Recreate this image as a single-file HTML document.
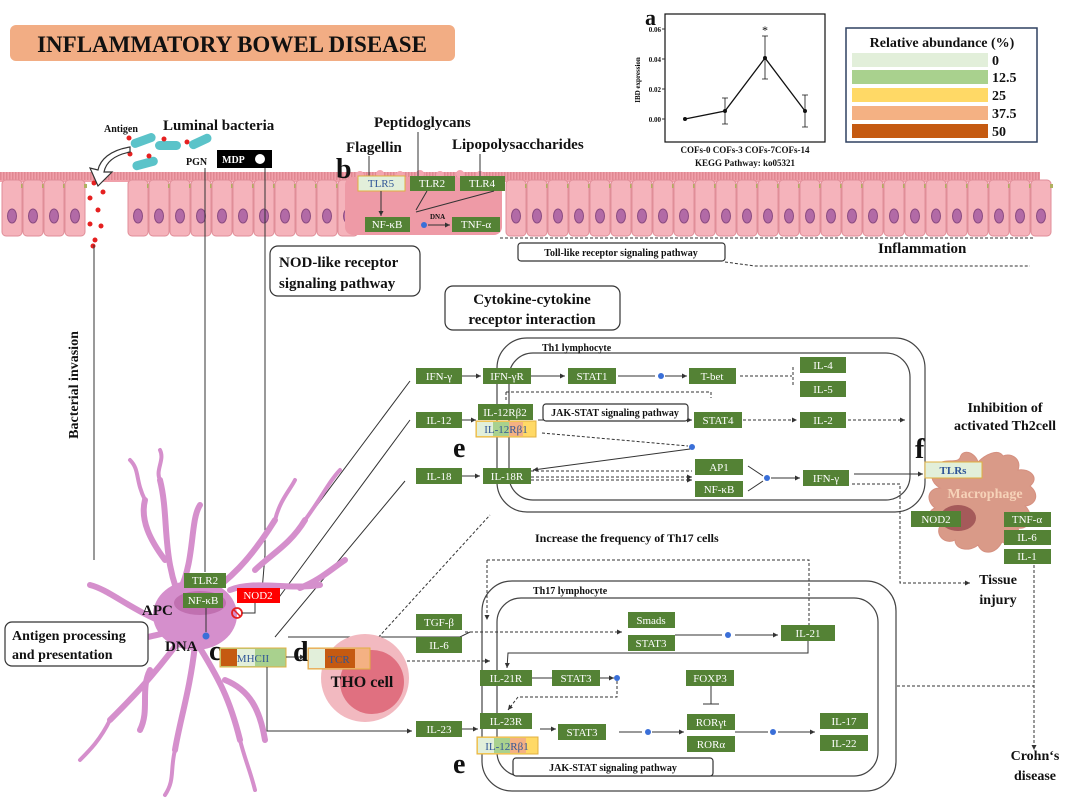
<!DOCTYPE html>
<html><head><meta charset="utf-8">
<style>
html,body{margin:0;padding:0;background:#fff;}
svg{display:block;font-family:"Liberation Serif",serif;}
.g{fill:#548235;}
.gt{fill:#fff;font-size:11px;text-anchor:middle;}
.b{font-weight:bold;fill:#111;}
.ln{stroke:#333;stroke-width:1;fill:none;}
.dl{stroke:#333;stroke-width:1;fill:none;stroke-dasharray:3,2;}
.box{fill:#fff;stroke:#333;stroke-width:1.2;}
</style></head><body>
<svg id="s" width="1080" height="812" viewBox="0 0 1080 812" xmlns="http://www.w3.org/2000/svg">
<defs>
<marker id="a" markerWidth="6" markerHeight="6" refX="5" refY="3" orient="auto"><path d="M0,0.5 L5,3 L0,5.5z" fill="#333"/></marker>
</defs>
<!-- title -->
<rect x="10" y="25" width="445" height="36" rx="6" fill="#f2ad84"/>
<text x="232" y="52" class="b" font-size="23" text-anchor="middle">INFLAMMATORY BOWEL DISEASE</text>

<!-- epithelium -->
<g id="epi"></g>
<rect x="345" y="177" width="157" height="58" rx="8" fill="#ee9aa6"/>
<g fill="#f3a5b0"><circle cx="360" cy="175" r="4"/><circle cx="380" cy="174" r="4"/><circle cx="400" cy="175" r="4"/><circle cx="420" cy="174" r="4"/><circle cx="440" cy="175" r="4"/><circle cx="460" cy="174" r="4"/><circle cx="480" cy="175" r="4"/></g>

<!-- luminal -->
<text x="104" y="132" class="b" font-size="10">Antigen</text>
<text x="163" y="130" class="b" font-size="15">Luminal bacteria</text>
<g fill="#5bc3c9">
<rect x="130" y="136" width="26" height="9" rx="4.5" transform="rotate(-20 143 140)"/>
<rect x="155" y="141" width="26" height="9" rx="4.5"/>
<rect x="188" y="137" width="24" height="9" rx="4.5" transform="rotate(-25 200 141)"/>
<rect x="132" y="159" width="26" height="9" rx="4.5" transform="rotate(-15 145 163)"/>
</g>
<g fill="#e52020"><circle cx="129" cy="138" r="2.5"/><circle cx="164" cy="139" r="2.5"/><circle cx="187" cy="142" r="2.5"/><circle cx="149" cy="156" r="2.5"/><circle cx="130" cy="154" r="2.5"/>
<circle cx="94" cy="183" r="2.5"/><circle cx="90" cy="198" r="2.5"/><circle cx="103" cy="192" r="2.5"/><circle cx="98" cy="210" r="2.5"/><circle cx="90" cy="224" r="2.5"/><circle cx="101" cy="226" r="2.5"/><circle cx="95" cy="240" r="2.5"/><circle cx="93" cy="246" r="2.5"/></g>
<path d="M130,147 C110,150 100,160 98,170 L90,168 L98,186 L112,172 L104,172 C106,162 115,155 130,152z" fill="#fff" stroke="#333" stroke-width="1.2"/>
<text x="186" y="165" class="b" font-size="10">PGN</text>
<rect x="217" y="150" width="55" height="18" fill="#000"/>
<text x="222" y="163" font-size="10" font-weight="bold" fill="#fff">MDP</text>
<circle cx="260" cy="159" r="5" fill="#fff"/>

<text x="374" y="127" class="b" font-size="15">Peptidoglycans</text>
<text x="346" y="152" class="b" font-size="15">Flagellin</text>
<text x="452" y="149" class="b" font-size="15">Lipopolysaccharides</text>
<text x="336" y="178" class="b" font-size="28">b</text>
<path class="ln" d="M369,156 V176 M418,132 V176 M480,154 V176"/>
<rect x="358" y="176" width="47" height="15" fill="#e2efda" stroke="#e0b040"/>
<text x="381" y="187" font-size="11" text-anchor="middle" fill="#2f5597">TLR5</text>
<rect x="410" y="176" width="45" height="15" class="g"/><text x="432" y="187" class="gt">TLR2</text>
<rect x="460" y="176" width="45" height="15" class="g"/><text x="482" y="187" class="gt">TLR4</text>
<path class="ln" d="M381,191 V216" marker-end="url(#a)"/>
<path class="ln" d="M427,191 L416,210 M494,191 L416,212"/>
<rect x="365" y="217" width="45" height="15" class="g"/><text x="387" y="228" class="gt">NF-κB</text>
<circle cx="424" cy="225" r="3" fill="#3a6fd8"/>
<text x="430" y="219" class="b" font-size="7">DNA</text>
<path class="ln" d="M428,225 H450" marker-end="url(#a)"/>
<rect x="452" y="217" width="48" height="15" class="g"/><text x="476" y="228" class="gt">TNF-α</text>

<path class="dl" d="M500,238 H1035"/>
<rect x="518" y="243" width="207" height="18" class="box" rx="3"/>
<text x="621" y="256" class="b" font-size="10" text-anchor="middle">Toll-like receptor signaling pathway</text>
<path class="dl" d="M725,262 L755,266 H1030"/>
<text x="878" y="253" class="b" font-size="15">Inflammation</text>

<!-- chart a -->
<text x="645" y="25" class="b" font-size="22">a</text>
<rect x="665" y="14" width="160" height="128" fill="none" stroke="#111" stroke-width="1.2"/>
<g font-size="7" font-weight="bold" text-anchor="end" fill="#111">
<text x="661" y="32">0.06</text><text x="661" y="62">0.04</text><text x="661" y="92">0.02</text><text x="661" y="122">0.00</text></g>
<path class="ln" d="M662,29 h3 M662,59 h3 M662,89 h3 M662,119 h3"/>
<text transform="translate(640,80) rotate(-90)" font-size="7" font-weight="bold" text-anchor="middle">IBD expression</text>
<polyline points="685,119 725,111 765,58 805,111" fill="none" stroke="#111" stroke-width="1.3"/>
<path d="M725,98 V124 M765,36 V79 M805,95 V127 M722,98h6M722,124h6M762,36h6M762,79h6M802,95h6M802,127h6" stroke="#111" stroke-width="0.8"/>
<g fill="#111"><circle cx="685" cy="119" r="2"/><circle cx="725" cy="111" r="2"/><circle cx="765" cy="58" r="2"/><circle cx="805" cy="111" r="2"/></g>
<text x="765" y="34" font-size="12" text-anchor="middle">*</text>
<text x="745" y="153" class="b" font-size="9" text-anchor="middle">COFs-0 COFs-3 COFs-7COFs-14</text>
<text x="745" y="166" class="b" font-size="9" text-anchor="middle">KEGG Pathway: ko05321</text>

<!-- legend -->
<rect x="846" y="28" width="191" height="114" fill="#fff" stroke="#2f4060" stroke-width="1.5"/>
<text x="942" y="47" class="b" font-size="14" text-anchor="middle">Relative abundance (%)</text>
<rect x="852" y="53" width="136" height="14" fill="#e2efda"/>
<rect x="852" y="70" width="136" height="14" fill="#a9d18e"/>
<rect x="852" y="88" width="136" height="14" fill="#ffd966"/>
<rect x="852" y="106" width="136" height="14" fill="#f4b183"/>
<rect x="852" y="124" width="136" height="14" fill="#c55a11"/>
<g class="b" font-size="14"><text x="992" y="65">0</text><text x="992" y="82">12.5</text><text x="992" y="100">25</text><text x="992" y="118">37.5</text><text x="992" y="136">50</text></g>

<!-- long lines -->
<path class="ln" d="M94,245 V560 M205,168 V572 M265,168 V555 L262,591"/>
<text transform="translate(78,385) rotate(-90)" class="b" font-size="14" text-anchor="middle">Bacterial invasion</text>

<rect x="270" y="246" width="150" height="50" rx="8" class="box"/>
<text x="279" y="267" class="b" font-size="15">NOD-like receptor</text>
<text x="279" y="288" class="b" font-size="15">signaling pathway</text>
<rect x="445" y="286" width="175" height="44" rx="8" class="box"/>
<text x="532" y="304" class="b" font-size="15" text-anchor="middle">Cytokine-cytokine</text>
<text x="532" y="324" class="b" font-size="15" text-anchor="middle">receptor interaction</text>

<!-- Th1 -->
<rect x="497" y="338" width="428" height="174" rx="30" fill="none" stroke="#444" stroke-width="1.2"/>
<rect x="509" y="353" width="401" height="147" rx="24" fill="none" stroke="#444" stroke-width="1.2"/>
<text x="542" y="351" class="b" font-size="10">Th1 lymphocyte</text>

<path class="ln" d="M297,532 L410,381 M277,600 L410,420 M275,637 L405,481 M288,637 H460 L470,632 M480,632"/>
<path class="ln" d="M462,376 H481" marker-end="url(#a)"/>
<path class="ln" d="M531,376 H565" marker-end="url(#a)"/>
<path class="ln" d="M618,376 H655 M665,376 H687" marker-end="url(#a)"/>
<circle cx="661" cy="376" r="3" fill="#3a6fd8"/>
<path class="dl" d="M740,376 H792 M793,367 V386 M506,392 H711 V398 M506,392 V400"/>
<path class="ln" d="M462,420 H476" marker-end="url(#a)"/>
<path class="ln" d="M538,420 H692" marker-end="url(#a)"/>
<path class="dl" d="M743,420 H797" marker-end="url(#a)"/>
<path class="dl" d="M848,420 H905" marker-end="url(#a)"/>
<path class="dl" d="M542,433 L688,446"/>
<circle cx="692" cy="447" r="3" fill="#3a6fd8"/>
<path class="ln" d="M690,449 L533,470" marker-end="url(#a)"/>
<path class="ln" d="M462,476 H480" marker-end="url(#a)"/>
<path class="dl" d="M531,471 H692 M531,477 H692" marker-end="url(#a)"/>
<path class="dl" d="M531,480 H692" marker-end="url(#a)"/>
<path class="ln" d="M748,466 L763,476 M748,491 L763,481 M771,478 H800" marker-end="url(#a)"/>
<circle cx="767" cy="478" r="3" fill="#3a6fd8"/>
<path class="ln" d="M854,474 H923" marker-end="url(#a)"/>
<path class="dl" d="M852,484 H900 V583 H970" marker-end="url(#a)"/>

<g>
<rect x="416" y="368" width="46" height="16" class="g"/><text x="439" y="380" class="gt">IFN-γ</text>
<rect x="483" y="368" width="48" height="16" class="g"/><text x="507" y="380" class="gt">IFN-γR</text>
<rect x="568" y="368" width="48" height="16" class="g"/><text x="592" y="380" class="gt">STAT1</text>
<rect x="689" y="368" width="47" height="16" class="g"/><text x="712" y="380" class="gt">T-bet</text>
<rect x="800" y="357" width="46" height="16" class="g"/><text x="823" y="369" class="gt">IL-4</text>
<rect x="800" y="381" width="46" height="16" class="g"/><text x="823" y="393" class="gt">IL-5</text>
<rect x="416" y="412" width="46" height="16" class="g"/><text x="439" y="424" class="gt">IL-12</text>
<rect x="478" y="404" width="55" height="16" class="g"/><text x="505" y="416" class="gt">IL-12Rβ2</text>
<rect x="694" y="412" width="48" height="16" class="g"/><text x="718" y="424" class="gt">STAT4</text>
<rect x="800" y="412" width="46" height="16" class="g"/><text x="823" y="424" class="gt">IL-2</text>
<rect x="416" y="468" width="46" height="16" class="g"/><text x="439" y="480" class="gt">IL-18</text>
<rect x="483" y="468" width="48" height="16" class="g"/><text x="507" y="480" class="gt">IL-18R</text>
<rect x="695" y="459" width="48" height="16" class="g"/><text x="719" y="471" class="gt">AP1</text>
<rect x="695" y="481" width="48" height="16" class="g"/><text x="719" y="493" class="gt">NF-κB</text>
<rect x="803" y="470" width="46" height="16" class="g"/><text x="826" y="482" class="gt">IFN-γ</text>
</g>
<g><rect x="476" y="421" width="60" height="16" fill="#ffd966" stroke="#e0b040"/><rect x="477" y="422" width="16" height="14" fill="#e2efda"/><rect x="493" y="422" width="16" height="14" fill="#a9d18e"/><rect x="509" y="422" width="14" height="14" fill="#f4b183"/>
<text x="506" y="433" font-size="11" text-anchor="middle" fill="#2f5597">IL-12Rβ1</text></g>
<rect x="543" y="404" width="145" height="17" rx="3" class="box"/>
<text x="615" y="416" class="b" font-size="10" text-anchor="middle">JAK-STAT signaling pathway</text>
<text x="453" y="457" class="b" font-size="28">e</text>

<text x="1005" y="412" class="b" font-size="14" text-anchor="middle">Inhibition of</text>
<text x="1005" y="430" class="b" font-size="14" text-anchor="middle">activated Th2cell</text>

<!-- macrophage -->
<text x="915" y="458" class="b" font-size="28">f</text>
<path d="M935,470 C940,455 955,465 960,458 C962,448 975,452 978,462 C985,455 998,448 1003,456 C1012,452 1022,460 1018,470 C1030,468 1040,478 1030,486 C1040,494 1036,505 1025,506 C1035,515 1030,530 1018,528 C1022,540 1012,548 1002,542 C995,555 982,555 978,545 C970,552 955,550 955,540 C945,545 935,535 940,526 C928,525 925,512 935,508 C925,500 928,488 940,488 C930,482 930,472 935,470z" fill="#d99a88" stroke="#d59080"/>
<ellipse cx="958" cy="518" rx="18" ry="13" fill="#a55a5a"/>
<rect x="925" y="462" width="57" height="16" fill="#e2efda" stroke="#e0b040"/>
<text x="953" y="474" font-size="11" text-anchor="middle" fill="#2f5597" font-weight="bold">TLRs</text>
<text x="985" y="498" font-size="14" font-weight="bold" fill="#f6d2b8" text-anchor="middle">Macrophage</text>
<rect x="911" y="511" width="50" height="16" class="g"/><text x="936" y="523" class="gt">NOD2</text>
<rect x="1004" y="512" width="47" height="15" class="g"/><text x="1027" y="523" class="gt">TNF-α</text>
<rect x="1004" y="530" width="47" height="15" class="g"/><text x="1027" y="541" class="gt">IL-6</text>
<rect x="1004" y="549" width="47" height="15" class="g"/><text x="1027" y="560" class="gt">IL-1</text>
<text x="998" y="584" class="b" font-size="14" text-anchor="middle">Tissue</text>
<text x="998" y="604" class="b" font-size="14" text-anchor="middle">injury</text>
<path class="dl" d="M1034,565 V735 M897,686 H1034"/>
<path class="dl" d="M1034,735 V750" marker-end="url(#a)"/>
<text x="1035" y="760" class="b" font-size="14" text-anchor="middle">Crohn‘s</text>
<text x="1035" y="780" class="b" font-size="14" text-anchor="middle">disease</text>

<text x="535" y="542" class="b" font-size="12">Increase the frequency of Th17 cells</text>
<path class="dl" d="M487,560 H809 V627 M487,560 V620" marker-end="url(#a)"/>
<path class="dl" d="M365,652 L490,515" />

<!-- Th17 -->
<rect x="482" y="581" width="414" height="210" rx="30" fill="none" stroke="#444" stroke-width="1.2"/>
<rect x="497" y="598" width="381" height="178" rx="24" fill="none" stroke="#444" stroke-width="1.2"/>
<text x="533" y="594" class="b" font-size="10">Th17 lymphocyte</text>
<path class="dl" d="M465,632 H622" marker-end="url(#a)"/>
<path class="ln" d="M675,635 H722 M735,635 H778" marker-end="url(#a)"/>
<circle cx="728" cy="635" r="3" fill="#3a6fd8"/>
<path class="ln" d="M808,641 V653 H508 L507,668" marker-end="url(#a)"/>
<path class="dl" d="M372,661 H490" marker-end="url(#a)"/>
<path class="ln" d="M532,678 H552 M600,678 H614" marker-end="url(#a)"/>
<circle cx="617" cy="678" r="3" fill="#3a6fd8"/>
<path class="dl" d="M617,681 V697 H518 L508,710" marker-end="url(#a)"/>
<path class="ln" d="M711,686 V704 M703,704 H719"/>
<path class="ln" d="M462,729 H478" marker-end="url(#a)"/>
<path class="ln" d="M540,729 H556" marker-end="url(#a)"/>
<path class="ln" d="M619,732 H642 M652,732 H684" marker-end="url(#a)"/>
<circle cx="648" cy="732" r="3" fill="#3a6fd8"/>
<path class="ln" d="M735,732 H768 M778,732 H815" marker-end="url(#a)"/>
<circle cx="773" cy="732" r="3" fill="#3a6fd8"/>
<g>
<rect x="416" y="614" width="46" height="16" class="g"/><text x="439" y="626" class="gt">TGF-β</text>
<rect x="416" y="637" width="46" height="16" class="g"/><text x="439" y="649" class="gt">IL-6</text>
<rect x="628" y="612" width="47" height="16" class="g"/><text x="651" y="624" class="gt">Smads</text>
<rect x="628" y="635" width="47" height="16" class="g"/><text x="651" y="647" class="gt">STAT3</text>
<rect x="781" y="625" width="54" height="16" class="g"/><text x="808" y="637" class="gt">IL-21</text>
<rect x="480" y="670" width="52" height="16" class="g"/><text x="506" y="682" class="gt">IL-21R</text>
<rect x="552" y="670" width="48" height="16" class="g"/><text x="576" y="682" class="gt">STAT3</text>
<rect x="686" y="670" width="48" height="16" class="g"/><text x="710" y="682" class="gt">FOXP3</text>
<rect x="416" y="721" width="46" height="16" class="g"/><text x="439" y="733" class="gt">IL-23</text>
<rect x="480" y="713" width="52" height="16" class="g"/><text x="506" y="725" class="gt">IL-23R</text>
<rect x="558" y="724" width="48" height="16" class="g"/><text x="582" y="736" class="gt">STAT3</text>
<rect x="687" y="714" width="48" height="16" class="g"/><text x="711" y="726" class="gt">RORγt</text>
<rect x="687" y="736" width="48" height="16" class="g"/><text x="711" y="748" class="gt">RORα</text>
<rect x="820" y="713" width="48" height="16" class="g"/><text x="844" y="725" class="gt">IL-17</text>
<rect x="820" y="735" width="48" height="16" class="g"/><text x="844" y="747" class="gt">IL-22</text>
</g>
<g><rect x="477" y="737" width="61" height="17" fill="#ffd966" stroke="#e0b040"/><rect x="478" y="738" width="16" height="15" fill="#e2efda"/><rect x="494" y="738" width="16" height="15" fill="#a9d18e"/><rect x="510" y="738" width="16" height="15" fill="#f4b183"/>
<text x="507" y="750" font-size="11" text-anchor="middle" fill="#2f5597">IL-12Rβ1</text></g>
<rect x="513" y="758" width="200" height="18" rx="3" class="box"/>
<text x="613" y="771" class="b" font-size="10" text-anchor="middle">JAK-STAT signaling pathway</text>
<text x="453" y="773" class="b" font-size="28">e</text>

<!-- dendritic cell -->
<g stroke="#d58fcc" stroke-linecap="round" fill="none">
<path d="M185,610 C160,560 170,520 160,480 M165,560 C150,540 140,520 145,500 M180,590 C195,560 190,520 200,505 M200,600 C230,580 250,560 275,520 M255,570 C270,555 290,545 305,520 M230,590 C255,580 285,590 320,585 M300,588 C320,580 330,570 345,560 M190,625 C150,640 120,640 90,650 M170,625 C130,610 110,590 90,585 M195,640 C220,680 230,700 240,740 M225,680 C250,690 260,710 265,740 M180,640 C150,680 130,700 110,720 M150,670 C140,690 150,710 140,730 M195,645 C190,690 180,720 175,750 M100,645 C80,640 60,650 45,660" stroke-width="6"/>
<path d="M160,480 C155,470 165,460 160,450 M145,500 C135,480 140,470 130,460 M275,520 C280,500 290,490 295,480 M305,520 C320,500 330,480 340,470 M110,720 C100,740 90,750 80,760 M240,740 C245,760 250,770 255,790 M175,750 C170,770 175,780 165,795" stroke-width="4"/>
</g>
<ellipse cx="195" cy="615" rx="42" ry="35" fill="#d58fcc"/>
<ellipse cx="200" cy="603" rx="26" ry="12" fill="#c070b0"/>
<rect x="184" y="573" width="42" height="15" class="g"/><text x="205" y="584" class="gt">TLR2</text>
<rect x="183" y="593" width="40" height="15" class="g"/><text x="203" y="604" class="gt">NF-κB</text>
<circle cx="237" cy="613" r="5" fill="none" stroke="#e52020" stroke-width="1.8"/><path d="M234,610 L240,616" stroke="#e52020" stroke-width="1.5"/>
<path class="ln" d="M242,613 H255 V603"/>
<rect x="237" y="588" width="43" height="15" fill="#f00"/><text x="258" y="599" class="gt">NOD2</text>
<circle cx="206" cy="636" r="3.5" fill="#3a6fd8"/>
<path class="ln" d="M206,608 V632"/>
<text x="142" y="615" class="b" font-size="15">APC</text>
<text x="165" y="651" class="b" font-size="15">DNA</text>
<text x="209" y="660" class="b" font-size="28">c</text>
<rect x="220" y="648" width="66" height="19" fill="#a9d18e" stroke="#e0b040"/><rect x="221" y="649" width="16" height="17" fill="#c55a11"/><rect x="237" y="649" width="18" height="17" fill="#e2efda"/>
<text x="253" y="662" font-size="11" text-anchor="middle" fill="#2f5597">MHCII</text>
<path class="ln" d="M286,657 H305" marker-end="url(#a)"/>
<path class="ln" d="M267,667 V731 H412" marker-end="url(#a)"/>
<circle cx="365" cy="678" r="44" fill="#f2b9c0"/>
<circle cx="372" cy="682" r="32" fill="#e07080"/>
<text x="293" y="661" class="b" font-size="28">d</text>
<rect x="308" y="648" width="62" height="21" fill="#f4b183" stroke="#e0b040"/><rect x="309" y="649" width="16" height="19" fill="#e2efda"/><rect x="325" y="649" width="30" height="19" fill="#c55a11"/>
<text x="339" y="663" font-size="11" text-anchor="middle" fill="#2f5597">TCR</text>
<text x="362" y="687" class="b" font-size="16" text-anchor="middle">THO cell</text>

<rect x="5" y="622" width="143" height="44" rx="7" class="box"/>
<text x="12" y="640" class="b" font-size="14">Antigen processing</text>
<text x="12" y="659" class="b" font-size="14">and presentation</text>
</svg>
<script>
(function(){
var g=document.getElementById('epi'),h='';
h+='<rect x="0" y="172" width="1040" height="10" fill="#f0a0aa"/>';
for(var x=0;x<1040;x+=3){h+='<rect x="'+x+'" y="172" width="1.5" height="8" fill="#e08892"/>';}
for(var x=2;x<1035;x+=21){
 if(x>75&&x<108)continue;
 if(x>343&&x<500)continue;
 h+='<rect x="'+x+'" y="180" width="20" height="56" rx="4" fill="#f5b3bb" stroke="#e08e98" stroke-width="1"/>';
 h+='<ellipse cx="'+(x+10)+'" cy="216" rx="4.5" ry="7" fill="#b26aa6" stroke="#8a4a80" stroke-width="1"/>';
 h+='<rect x="'+(x+19)+'" y="184" width="3" height="4" fill="#b0b060"/>';
}
g.innerHTML=h;
})();
</script>
</body></html>
